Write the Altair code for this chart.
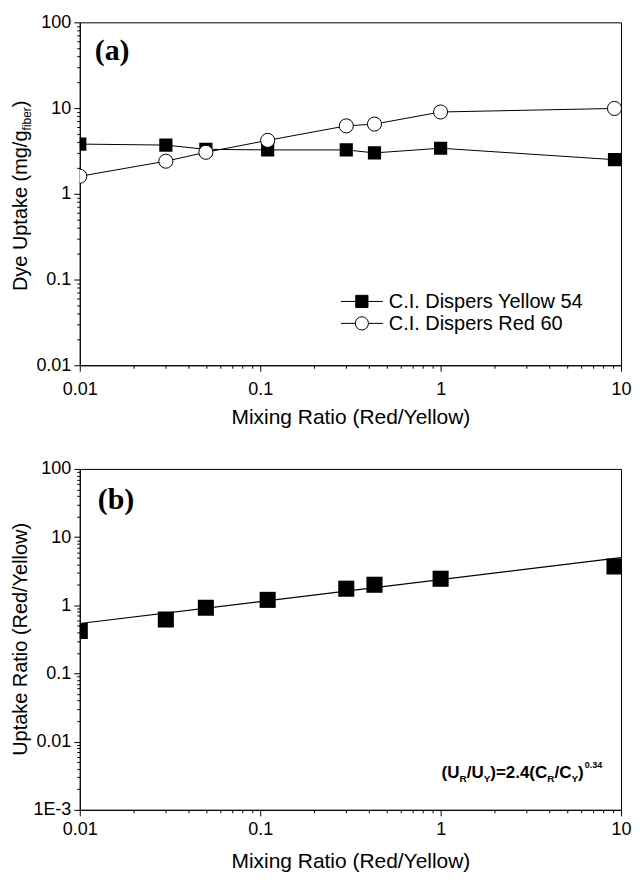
import altair as alt
import pandas as pd
import numpy as np

# ---------------- data ----------------
mix_ratio = [0.01, 0.03, 0.05, 0.11, 0.30, 0.43, 1.0, 9.2]
yellow_uptake = [3.8, 3.7, 3.3, 3.25, 3.25, 3.0, 3.4, 2.5]
red_uptake = [1.6, 2.4, 3.05, 4.2, 6.2, 6.5, 9.0, 9.9]
uptake_ratio = [0.42, 0.62, 0.92, 1.2, 1.75, 2.0, 2.45, 3.7]
fit_x = [0.01, 10.0]
fit_y = [0.54, 5.0]

series_names = ["C.I. Dispers Yellow 54", "C.I. Dispers Red 60"]

x_tick_vals = [0.01, 0.1, 1, 10]
x_tick_labels = ["0.01", "0.1", "1", "10"]
ya_tick_vals = [0.01, 0.1, 1, 10, 100]
ya_tick_labels = ["0.01", "0.1", "1", "10", "100"]
yb_tick_vals = [0.001, 0.01, 0.1, 1, 10, 100]
yb_tick_labels = ["1E-3", "0.01", "0.1", "1", "10", "100"]

x_title = "Mixing Ratio (Red/Yellow)"
ya_title = ["Dye Uptake (mg/g", "fiber", ")"]
yb_title = "Uptake Ratio (Red/Yellow)"
eq_parts = [("(U", "n"), ("R", "sub"), ("/U", "n"), ("Y", "sub"), (")=2.4(C", "n"),
            ("R", "sub"), ("/C", "n"), ("Y", "sub"), (")", "n"), ("0.34", "sup")]

FONT = "Liberation Sans"
W = 543
HA, HB = 344, 342

df_y = pd.DataFrame({"x": mix_ratio, "y": yellow_uptake})
df_r = pd.DataFrame({"x": mix_ratio, "y": red_uptake})
df_b = pd.DataFrame({"x": mix_ratio, "y": uptake_ratio})
df_fit = pd.DataFrame({"x": fit_x, "y": fit_y})
one = pd.DataFrame({"k": [0]})

DEC = "abs(log(datum.value)/LN10 - round(log(datum.value)/LN10)) < 0.001"


def label_expr(vals, labels):
    expr = "''"
    for v, l in zip(reversed(vals), reversed(labels)):
        expr = f"abs(datum.value - {v}) < {v}*0.001 ? '{l}' : ({expr})"
    return expr


def all_ticks(lo, hi):
    out = []
    for e in range(lo, hi):
        for m in range(1, 10):
            out.append(round(m * 10.0 ** e, 6))
    out.append(10.0 ** hi)
    return out


tick_size = {"condition": {"test": DEC, "value": 6}, "value": 3}


def x_axis(label_pad, title_pad):
    return alt.Axis(values=all_ticks(-2, 1), labelExpr=label_expr(x_tick_vals, x_tick_labels),
                    tickSize=tick_size, labelFlush=False, labelOverlap=False, labelBound=False,
                    title=x_title, titlePadding=title_pad, labelPadding=label_pad)


def y_axis(lo, hi, vals, labels):
    return alt.Axis(values=all_ticks(lo, hi), labelExpr=label_expr(vals, labels),
                    tickSize=tick_size, labelFlush=False, labelOverlap=False, labelBound=False,
                    title=None, labelPadding=3)


Xa = alt.X("x:Q", scale=alt.Scale(type="log", domain=[0.01, 10]), axis=x_axis(9, 8))
Xb = alt.X("x:Q", scale=alt.Scale(type="log", domain=[0.01, 10]), axis=x_axis(5, 12))

# Arial-like widths (per em)
WN = {"(": .333, ")": .333, "U": .722, "R": .722, "Y": .667, "/": .278, "=": .584, "2": .556,
      ".": .278, "4": .556, "C": .722, "0": .556, "3": .556, "D": .722, "y": .5, "e": .556,
      " ": .278, "p": .556, "t": .278, "a": .556, "k": .5, "m": .833, "g": .556, "f": .278,
      "i": .222, "b": .556, "r": .333}


def tw(s, size):
    return sum(WN.get(c, .556) for c in s) * size


def txt(s, x, y, size, angle=0, align="left", baseline="alphabetic", font=FONT, weight="normal"):
    return alt.Chart(one).mark_text(text=s, align=align, baseline=baseline, fontSize=size,
                                    font=font, fontWeight=weight, angle=angle, color="black"
                                    ).encode(x=alt.value(x), y=alt.value(y))


# ---------------- panel (a) ----------------
Ya = alt.Y("y:Q", scale=alt.Scale(type="log", domain=[0.01, 100]),
           axis=y_axis(-2, 2, ya_tick_vals, ya_tick_labels))

line_y = alt.Chart(df_y).mark_line(color="black", strokeWidth=1, clip=True).encode(x=Xa, y=Ya)
line_r = alt.Chart(df_r).mark_line(color="black", strokeWidth=1, clip=True).encode(x=Xa, y=Ya)
pts_y = alt.Chart(df_y).mark_point(shape="square", filled=True, color="black", size=175,
                                   opacity=1, clip=True).encode(x=Xa, y=Ya)
pts_r = alt.Chart(df_r).mark_point(shape="circle", filled=True, fill="white", stroke="black",
                                   strokeWidth=1, size=200, opacity=1, clip=True).encode(x=Xa, y=Ya)

leg = []
for i, (nm, shp, fill) in enumerate(zip(series_names, ["square", "circle"], ["black", "white"])):
    yy = 280 + 22 * i
    leg.append(alt.Chart(one).mark_rule(color="black", strokeWidth=1).encode(
        x=alt.value(262), x2=alt.value(304), y=alt.value(yy)))
    leg.append(alt.Chart(one).mark_point(shape=shp, filled=True, fill=fill, stroke="black",
                                         strokeWidth=1, size=150 if shp == "square" else 175,
                                         opacity=1).encode(x=alt.value(283), y=alt.value(yy)))
    leg.append(txt(nm, 310, yy + 1, 20, baseline="middle"))

# y title with subscript (rotated)
ta0 = 174 + (tw(ya_title[0], 20) + tw(ya_title[1], 12) + tw(ya_title[2], 20)) / 2
title_a = [
    txt(ya_title[0], -53, ta0, 20, angle=270),
    txt(ya_title[1], -49, ta0 - tw(ya_title[0], 20), 12, angle=270),
    txt(ya_title[2], -53, ta0 - tw(ya_title[0], 20) - tw(ya_title[1], 12), 20, angle=270),
]

panel_a = alt.layer(
    line_y, line_r, pts_y, pts_r, *leg, *title_a,
    txt("(a)", 15, 38, 30, font="Liberation Serif", weight="bold"),
).properties(width=W, height=HA)

# ---------------- panel (b) ----------------
Yb = alt.Y("y:Q", scale=alt.Scale(type="log", domain=[0.001, 100]),
           axis=y_axis(-3, 2, yb_tick_vals, yb_tick_labels))

fit_line = alt.Chart(df_fit).mark_line(color="black", strokeWidth=1.2, clip=True).encode(x=Xb, y=Yb)
pts_b = alt.Chart(df_b).mark_point(shape="square", filled=True, color="black", size=260,
                                   opacity=1, clip=True).encode(x=Xb, y=Yb)

eq_layers = []
ex = 363
EQ = 17
for s, kind in eq_parts:
    if kind == "n":
        eq_layers.append(txt(s, ex, 310, EQ, weight="bold"))
        ex += tw(s, EQ)
    elif kind == "sub":
        eq_layers.append(txt(s, ex, 314, 10, weight="bold"))
        ex += tw(s, 10)
    else:
        eq_layers.append(txt(s, ex + 1, 300, 9, weight="bold"))
        ex += tw(s, 9)

panel_b = alt.layer(
    fit_line, pts_b, *eq_layers,
    txt(yb_title, -53, 171, 20, angle=270, align="center"),
    txt("(b)", 18, 40, 30, font="Liberation Serif", weight="bold"),
).properties(width=W, height=HB)

chart = alt.vconcat(panel_a, panel_b, spacing=31).properties(
    padding={"top": 3, "left": 2, "right": 0, "bottom": 0}
).configure_view(stroke="black", strokeWidth=1).configure_axis(
    domainColor="black", tickColor="black", labelColor="black", titleColor="black",
    labelFont=FONT, titleFont=FONT, labelFontSize=18, titleFontSize=21,
    titleFontWeight="normal", grid=False, domainWidth=1, tickWidth=1,
)

chart.save("out.html", embed_options={"renderer": "svg", "actions": False})
